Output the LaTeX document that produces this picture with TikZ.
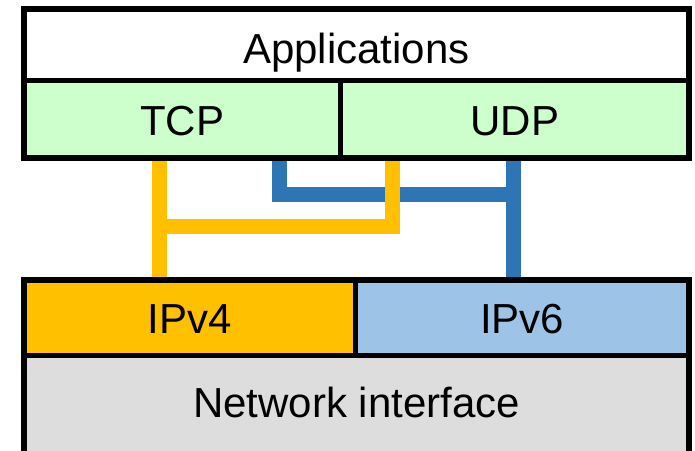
\documentclass[tikz,border=0pt]{standalone}
\usepackage{fontspec}
\setmainfont{Liberation Sans}
\definecolor{tcpgreen}{HTML}{CCFFCC}
\definecolor{vfouryel}{HTML}{FFC000}
\definecolor{vsixblue}{HTML}{9DC3E6}
\definecolor{netgray}{HTML}{DDDDDD}
\definecolor{linkblue}{HTML}{2E75B6}
\pgfdeclarelayer{bg}
\pgfsetlayers{bg,main}
\tikzset{
  layerbox/.style={draw=black, line width=5.5pt, rectangle, anchor=north west,
    inner sep=0pt, outer sep=0pt, text height=34pt, text depth=2pt,
    font=\fontsize{42}{50}\selectfont},
  yellink/.style={draw=vfouryel, line width=15pt, line join=miter},
  bluelink/.style={draw=linkblue, line width=15pt, line join=miter},
}
\begin{document}
\begin{tikzpicture}[x=1pt,y=-1pt]
\useasboundingbox (0,0) rectangle (695,450);
\clip (0,0) rectangle (695,450);
\node[layerbox, fill=white, minimum width=665pt, minimum height=71.5pt, text height=38.5pt] (apps) at (24,9) {Applications};
\node[layerbox, fill=tcpgreen, minimum width=316.5pt, minimum height=77.5pt] (tcp) at (24,80.5) {TCP};
\node[layerbox, fill=tcpgreen, minimum width=348.5pt, minimum height=77.5pt] (udp) at (340.5,80.5) {UDP};
\node[layerbox, fill=vfouryel, minimum width=331.5pt, minimum height=75.5pt] (ipv4) at (24,280) {IPv4};
\node[layerbox, fill=vsixblue, minimum width=333.5pt, minimum height=75.5pt] (ipv6) at (355.5,280) {IPv6};
\node[layerbox, fill=netgray, minimum width=665pt, minimum height=110pt, text depth=21pt] (net) at (24,355.5) {Network interface};
\coordinate (yj) at (159.5,226);
\coordinate (bj) at (513.5,194);
\begin{pgfonlayer}{bg}
  \draw[bluelink] (tcp.south -| 279.5,0) |- (bj);
  \draw[bluelink] (udp.south -| bj) -- (ipv6.north -| bj);
  \draw[yellink] (tcp.south -| yj) -- (ipv4.north -| yj);
  \draw[yellink] (udp.south -| 392.5,0) |- (yj);
\end{pgfonlayer}
\end{tikzpicture}
\end{document}
